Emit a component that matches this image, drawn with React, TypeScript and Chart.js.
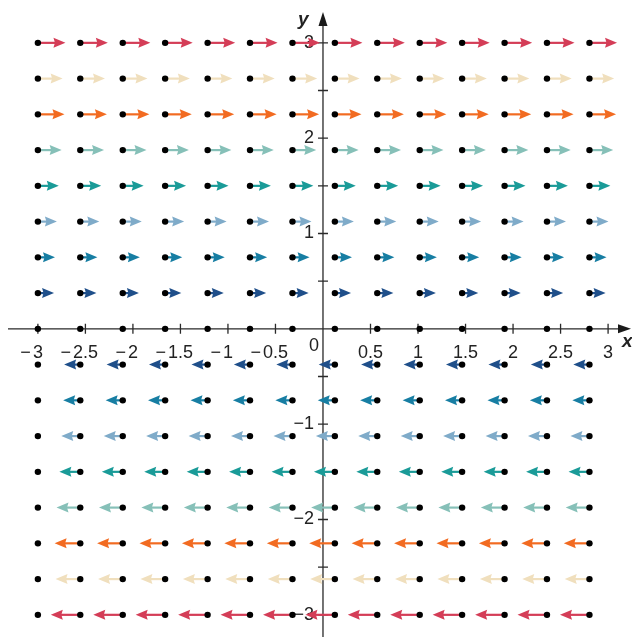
import React, { useEffect, useRef } from "react";
import { Chart, registerables } from "chart.js";
Chart.register(...registerables);

// Grid columns (x) and rows (y) of the vector field
const xColumns = [-3, -2.554, -2.107, -1.661, -1.214, -0.768, -0.321, 0.125, 0.571, 1.018, 1.464, 1.911, 2.357, 2.804];
const yRows = [3, 2.625, 2.25, 1.875, 1.5, 1.125, 0.75, 0.375, 0, -0.375, -0.75, -1.125, -1.5, -1.875, -2.25, -2.625, -3];
// Drawn horizontal component of each row's arrows (x units)
const arrowU = [0.29, 0.26, 0.28, 0.25, 0.22, 0.2, 0.18, 0.17, 0, -0.17, -0.18, -0.2, -0.22, -0.25, -0.27, -0.26, -0.31];
const rowColors = [
  "#d43d57", "#f0dfbd", "#f26b21", "#86c0b8", "#1a9b98", "#7fabc9", "#177ea3", "#1f4f8a",
  "#000000",
  "#1f4f8a", "#177ea3", "#7fabc9", "#1a9b98", "#86c0b8", "#f26b21", "#f0dfbd", "#d43d57",
];
const xTickValues = [-3, -2.5, -2, -1.5, -1, -0.5, 0.5, 1, 1.5, 2, 2.5, 3];
const xTickLabels = ["−3", "−2.5", "−2", "−1.5", "−1", "−0.5", "0.5", "1", "1.5", "2", "2.5", "3"];
const yTickValues = [-3, -2.5, -2, -1.5, -1, -0.5, 0.5, 1, 1.5, 2, 2.5, 3];
const yLabelValues = [-3, -2, -1, 1, 2, 3];
const yLabelTexts = ["−3", "−2", "−1", "1", "2", "3"];

const FONT = '18px "Liberation Sans", Arial, sans-serif';
const AXIS_FONT = 'italic bold 19px "Liberation Sans", Arial, sans-serif';

const fieldPlugin = {
  id: "fieldPlugin",
  beforeDatasetsDraw(chart: any) {
    const ctx = chart.ctx as CanvasRenderingContext2D;
    const xs = chart.scales.x;
    const ys = chart.scales.y;
    const x0 = xs.getPixelForValue(0);
    const y0 = ys.getPixelForValue(0);
    const W = chart.width;
    const H = chart.height;
    ctx.save();
    // axes
    ctx.strokeStyle = "#2a2a2a";
    ctx.fillStyle = "#1a1a1a";
    ctx.lineWidth = 1.3;
    ctx.beginPath();
    ctx.moveTo(8, y0);
    ctx.lineTo(W - 8, y0);
    ctx.moveTo(x0, H);
    ctx.lineTo(x0, 24);
    ctx.stroke();
    // arrowheads
    ctx.beginPath();
    ctx.moveTo(W - 1, y0);
    ctx.lineTo(W - 14, y0 - 4.5);
    ctx.lineTo(W - 14, y0 + 4.5);
    ctx.closePath();
    ctx.fill();
    ctx.beginPath();
    ctx.moveTo(x0, 12);
    ctx.lineTo(x0 - 4.5, 26);
    ctx.lineTo(x0 + 4.5, 26);
    ctx.closePath();
    ctx.fill();
    // ticks
    ctx.beginPath();
    xTickValues.forEach((v) => {
      const px = xs.getPixelForValue(v);
      ctx.moveTo(px, y0 - 5);
      ctx.lineTo(px, y0 + 5);
    });
    yTickValues.forEach((v) => {
      const py = ys.getPixelForValue(v);
      ctx.moveTo(x0 - 5, py);
      ctx.lineTo(x0 + 5, py);
    });
    ctx.stroke();
    // x labels
    ctx.font = FONT;
    ctx.fillStyle = "#222";
    ctx.textBaseline = "alphabetic";
    xTickValues.forEach((v, i) => {
      const px = xs.getPixelForValue(v);
      const lab = xTickLabels[i];
      const digits = lab.replace("−", "");
      const dw = ctx.measureText(digits).width;
      ctx.textAlign = "right";
      ctx.fillText(digits, px + dw / 2, y0 + 29);
      if (lab.startsWith("−")) {
        ctx.fillText("−", px - dw / 2 - 2, y0 + 29);
      }
    });
    ctx.textAlign = "right";
    ctx.fillText("0", x0 - 4, y0 + 22);
    // y labels
    ctx.textBaseline = "middle";
    yLabelValues.forEach((v, i) => {
      const py = ys.getPixelForValue(v);
      ctx.fillText(yLabelTexts[i], x0 - 9, py);
    });
    // axis names
    ctx.font = AXIS_FONT;
    ctx.textAlign = "left";
    ctx.textBaseline = "alphabetic";
    ctx.fillText("x", W - 10, y0 + 18);
    ctx.fillText("y", x0 - 25, 25);
    // arrows
    yRows.forEach((yv, r) => {
      const u = arrowU[r];
      if (u === 0) return;
      const py = ys.getPixelForValue(yv);
      ctx.strokeStyle = rowColors[r];
      ctx.fillStyle = rowColors[r];
      ctx.lineWidth = 2.2;
      xColumns.forEach((xv) => {
        if (xv + u < -3.05) return;
        const pa = xs.getPixelForValue(xv);
        const pb = xs.getPixelForValue(xv + u);
        const dir = Math.sign(pb - pa);
        const headLen = 12;
        const shaftEnd = pb - dir * headLen;
        ctx.beginPath();
        ctx.moveTo(pa, py);
        ctx.lineTo(shaftEnd + dir * 3, py);
        ctx.stroke();
        ctx.beginPath();
        ctx.moveTo(pb, py);
        ctx.lineTo(shaftEnd, py - 5);
        ctx.lineTo(shaftEnd + dir * 1.5, py);
        ctx.lineTo(shaftEnd, py + 5);
        ctx.closePath();
        ctx.fill();
      });
    });
    ctx.restore();
  },
};

export default function App() {
  const ref = useRef<HTMLCanvasElement | null>(null);
  useEffect(() => {
    if (!ref.current) return;
    const points: { x: number; y: number }[] = [];
    yRows.forEach((yv) => xColumns.forEach((xv) => points.push({ x: xv, y: yv })));
    const chart = new Chart(ref.current, {
      type: "scatter",
      data: {
        datasets: [
          {
            data: points,
            pointRadius: 3.2,
            pointBackgroundColor: "#000",
            pointBorderWidth: 0,
            pointHoverRadius: 3.2,
          },
        ],
      },
      options: {
        animation: false,
        responsive: false,
        devicePixelRatio: 1,
        layout: { padding: 0 },
        plugins: { legend: { display: false }, tooltip: { enabled: false } },
        events: [],
        scales: {
          x: { type: "linear", min: -3.365, max: 3.218, display: false },
          y: { type: "linear", min: -3.199, max: 3.416, display: false },
        },
      },
      plugins: [fieldPlugin],
    });
    return () => chart.destroy();
  }, []);
  return (
    <div style={{ position: "fixed", left: 0, top: 0, width: 632, height: 637, background: "#fff" }}>
      <canvas ref={ref} width={632} height={637} style={{ width: 632, height: 637, display: "block" }} />
    </div>
  );
}
